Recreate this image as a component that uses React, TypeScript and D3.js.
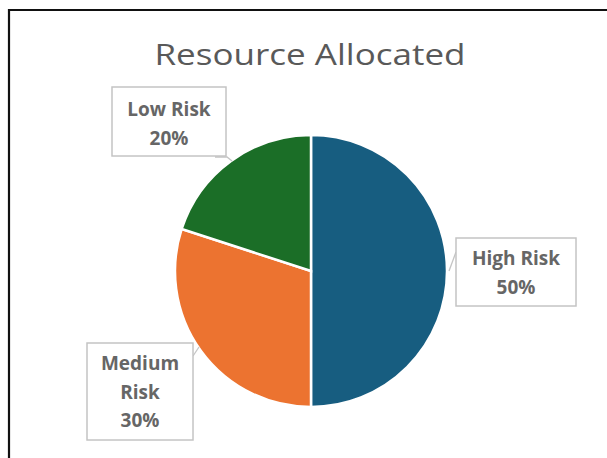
import React from "react";
import * as d3 from "d3";

const categories = ["High Risk", "Medium Risk", "Low Risk"];
const values = [50, 30, 20];
const labelLines = [["High Risk", "50%"], ["Medium", "Risk", "30%"], ["Low Risk", "20%"]];
const colors = ["#175d80", "#ec7330", "#1b6e27"];
const title = "Resource Allocated";

// layout of label boxes (x, y, w, h)
const boxes = [
  { x: 456, y: 238, w: 120, h: 68, tx: 516, ty: 265 },
  { x: 87, y: 343, w: 106, h: 97, tx: 140, ty: 370 },
  { x: 112, y: 87, w: 114, h: 69, tx: 169, ty: 116 },
];
const leaders = [
  [[456, 252], [449, 271]],
  [[193, 356], [199, 347]],
  [[215, 157], [227, 157], [232, 161]],
];

export default function App() {
  const W = 607, H = 458;
  const cx = 311, cy = 271, r = 136;
  const pie = d3.pie<number>().sort(null).value((d) => d)(values);
  const arc = d3.arc<d3.PieArcDatum<number>>().innerRadius(0).outerRadius(r);
  const line = d3.line();
  return (
    <svg width={W} height={H} style={{ position: "absolute", left: 0, top: 0, background: "#fff" }}
      fontFamily="'Open Sans', 'Liberation Sans', Arial, sans-serif">
      <rect x={0} y={0} width={W} height={H} fill="#fff" />
      <path d={`M9,${H} L9,10 L${W},10`} fill="none" stroke="#111" strokeWidth={2.2} />
      <text x={310} y={65} textAnchor="middle" fontSize={29} fill="#595959" textLength={311} lengthAdjust="spacingAndGlyphs">{title}</text>
      <g transform={`translate(${cx},${cy})`}>
        {pie.map((p, i) => (
          <path key={categories[i]} d={arc(p) || ""} fill={colors[i]} stroke="#fff" strokeWidth={2.5} />
        ))}
      </g>
      {leaders.map((l, i) => (
        <path key={i} d={line(l as [number, number][]) || ""} fill="none" stroke="#c4c4c4" strokeWidth={1.3} />
      ))}
      {boxes.map((b, i) => (
        <g key={categories[i]}>
          <rect x={b.x} y={b.y} width={b.w} height={b.h} fill="#fff" stroke="#c4c4c4" strokeWidth={1.5} />
          {labelLines[i].map((t, j) => (
            <text key={j} x={b.tx} y={b.ty + j * 28.5} textAnchor="middle" fontSize={19} fontWeight="bold" fill="#666666">{t}</text>
          ))}
        </g>
      ))}
    </svg>
  );
}
